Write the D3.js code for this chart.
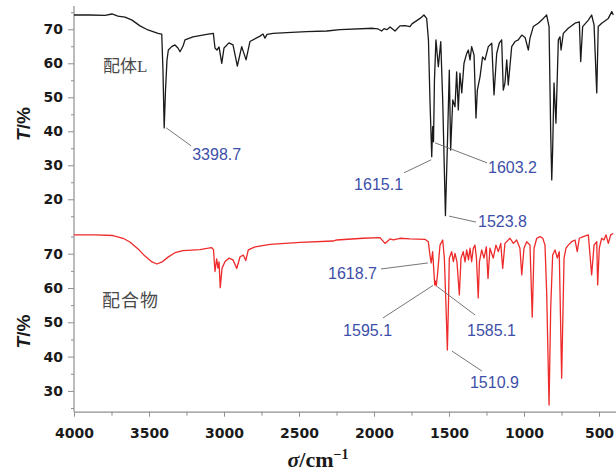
<!DOCTYPE html>
<html><head><meta charset="utf-8">
<script src="https://cdn.jsdelivr.net/npm/d3@7"></script>
<style>html,body{margin:0;padding:0;background:#fff;} svg{display:block}</style>
</head><body><svg id="c" width="616" height="475"></svg>
<script>
// ---------- DATA ----------
// Ligand L (black, top panel): wavenumber (cm-1) and transmittance T (%)
const ligandWn = [4000,3893,3793,3747,3707,3660,3613,3560,3507,3440,3415,3407,3398.7,3390,3380,3371,3349,3327,3307,3293,3273,3260,3207,3115,3071,3060,3047,3033,3015,3000,2967,2940,2911,2882,2853,2827,2760,2740,2727,2713,2673,2582,2449,2315,2227,2007,1973,1949,1933,1915,1893,1860,1827,1793,1760,1747,1693,1667,1649,1637,1627,1615.1,1609,1603.2,1597,1587,1571,1555,1542,1523.8,1511,1498,1489,1475,1460,1449,1438,1427,1415,1400,1382,1371,1360,1349,1333,1320,1311,1293,1276,1260,1238,1215,1200,1182,1165,1149,1138,1127,1115,1105,1082,1060,1038,1015,993,971,960,938,905,871,849,833,822,815,809,800,787,771,760,753,738,705,660,631,622,609,571,549,533,515,505,482,438,415,405];
const ligandT  = [74.2,74.2,74.1,74.5,73.9,73.6,72.7,71.0,69.8,68.8,68.6,58.0,41.0,52.1,61.0,63.9,64.9,65.4,64.5,63.4,65.1,66.9,67.8,68.5,68.8,64.5,63.9,64.8,60.0,64.5,66.0,65.4,59.2,64.9,61.0,66.4,68.0,68.6,67.4,68.5,68.8,69.0,69.3,69.5,69.9,70.3,70.1,69.5,70.2,69.9,70.7,69.5,71.0,71.1,70.8,71.6,73.2,74.2,73.2,66.9,49.2,32.5,41.4,36.9,55.1,66.9,59.0,66.4,49.2,15.2,35.5,58.0,34.5,49.2,47.2,57.5,46.3,57.1,51.3,60.0,62.9,63.9,61.0,64.9,62.4,43.9,52.1,56.1,61.9,61.0,64.9,65.9,50.7,62.9,65.9,66.9,52.1,54.2,61.0,53.6,64.9,66.4,66.9,68.3,67.6,63.9,67.4,70.8,71.8,73.2,74.2,70.8,39.5,25.7,34.5,54.2,42.4,66.9,67.8,63.9,68.8,70.3,71.8,72.2,60.5,70.8,72.7,74.2,71.3,51.3,70.8,71.8,73.2,75.2,74.2];

// Complex (red, bottom panel)
const complexWn = [4000,3860,3740,3673,3627,3573,3527,3480,3447,3413,3373,3327,3273,3160,3105,3082,3070,3060,3049,3040,3033,3025,3013,2993,2967,2940,2915,2893,2871,2855,2838,2793,2693,2493,2273,2249,2073,1960,1927,1893,1871,1827,1760,1660,1638,1627,1618.7,1609,1595.1,1590,1585.1,1577,1560,1542,1531,1517,1510.9,1503,1498,1482,1471,1460,1447,1431,1420,1405,1393,1382,1370,1360,1349,1338,1327,1317,1305,1297,1282,1267,1251,1240,1227,1205,1187,1171,1155,1142,1127,1093,1071,1049,1027,1015,1000,982,960,945,933,915,893,875,860,849,833,822,809,793,778,765,749,733,720,705,682,660,645,631,605,571,549,533,515,509,498,482,467,453,438,422,405];
const complexT  = [75.5,75.5,75.3,74.5,73.4,71.4,69.3,67.6,67.0,67.6,69.0,70.3,70.9,71.2,71.6,71.8,71.1,64.8,68.5,65.8,67.6,60.1,65.8,67.7,68.7,68.2,65.7,69.1,69.6,68.0,71.1,72.0,72.7,73.3,73.7,74.0,74.5,74.7,73.0,74.3,74.0,74.5,74.3,74.2,73.5,69.6,67.3,70.6,60.9,62.0,60.6,63.8,72.5,74.0,68.7,50.7,41.9,56.5,68.7,70.6,67.7,70.1,67.6,58.0,68.7,70.6,67.6,71.1,68.2,71.6,67.7,71.6,72.5,68.7,57.1,67.7,71.1,68.7,72.0,62.8,71.6,68.7,72.5,70.6,73.0,65.7,73.0,74.5,73.0,74.0,71.6,63.8,71.6,73.5,72.5,51.5,71.6,74.5,75.0,74.5,72.5,58.9,25.9,54.1,69.6,71.1,68.7,70.6,33.7,68.7,71.6,72.5,73.5,74.0,70.6,74.5,75.0,75.5,63.8,72.5,73.5,60.9,71.6,74.5,74.0,75.5,73.0,75.5,75.9];

// Axis ticks
const xMajorTicks = [4000,3500,3000,2500,2000,1500,1000,500];
const xMinorTicks = [3750,3250,2750,2250,1750,1250,750];
const yTopMajor = [20,30,40,50,60,70];
const yTopMinor = [15,25,35,45,55,65,75];
const yBotMajor = [30,40,50,60,70];
const yBotMinor = [25,35,45,55,65,75];

// Peak annotations
const annLabel = ["3398.7","1615.1","1603.2","1523.8","1618.7","1595.1","1585.1","1510.9"];
const annWn    = [3398.7,1615.1,1603.2,1523.8,1618.7,1595.1,1585.1,1510.9];
const annT     = [41.0,32.5,36.9,15.2,67.3,60.9,60.6,41.9];
const annPanel = ["top","top","top","top","bottom","bottom","bottom","bottom"];

// Series names
const seriesNames = ["配体", "配合物"];

// ---------- LAYOUT (offsets of leader lines / labels, px) ----------
const annLayout = [
  {sx:2,  sy:0,   ex:27,   ey:18, tx:28,   ty:32,  anchor:"start"},
  {sx:-0.5,sy:3,  ex:-27.7,ey:16, tx:-28.7,ty:33,  anchor:"end"},
  {sx:1.5,sy:1,   ex:53.5, ey:21, tx:54.5, ty:31,  anchor:"start"},
  {sx:3.6,sy:0.5, ex:30.6, ey:6.5,tx:32.6, ty:11.5,anchor:"start"},
  {sx:-3.2,sy:0,  ex:-50.2,ey:6,  tx:-54.2,ty:16,  anchor:"end"},
  {sx:-1.7,sy:0.5,ex:-51.7,ey:33, tx:-42.7,ty:51,  anchor:"end"},
  {sx:0.8,sy:0.5, ex:38.8, ey:29, tx:30.8, ty:50,  anchor:"start"},
  {sx:4.6,sy:1,   ex:34.6, ey:21, tx:22.6, ty:38,  anchor:"start"}
];

// ---------- CHART ----------
const svg = d3.select("#c");
const axisGray = "#8f8f8f";
const x = d3.scaleLinear().domain([4000, 390]).range([74, 615.5]);
const yTop = d3.scaleLinear().domain([76.85, 13.32]).range([6, 222]);
const yBot = d3.scaleLinear().domain([78.95, 23.94]).range([223, 411.7]);

function styleAxis(g, fs) {
  g.select(".domain").remove();
  g.selectAll(".tick line").attr("stroke", axisGray).attr("stroke-width", 1);
  g.selectAll(".tick text").attr("fill", "#1a1a1a")
    .style("font-family", "'DejaVu Sans', sans-serif")
    .style("font-weight", "bold").style("font-size", fs + "px");
}

// continuous y axis line
svg.append("line").attr("x1", 74).attr("x2", 74).attr("y1", yTop.range()[0]).attr("y2", yBot.range()[1])
  .attr("stroke", axisGray).attr("stroke-width", 1.2);

[[yTop, yTopMajor, yTopMinor], [yBot, yBotMajor, yBotMinor]].forEach(([ys, maj, min]) => {
  svg.append("g").attr("transform", "translate(74,0)")
    .call(d3.axisLeft(ys).tickValues(maj).tickSize(6).tickPadding(5).tickFormat(d3.format("d")))
    .call(g => styleAxis(g, 14));
  svg.append("g").attr("transform", "translate(74,0)")
    .call(d3.axisLeft(ys).tickValues(min).tickSize(3).tickFormat(""))
    .call(g => styleAxis(g, 14));
});

// x axis
const xg = svg.append("g").attr("transform", `translate(0,${yBot.range()[1]})`);
xg.call(d3.axisBottom(x).tickValues(xMajorTicks).tickSize(5).tickPadding(11).tickSizeOuter(0).tickFormat(d3.format("d")))
  .call(g => { g.select(".domain").attr("stroke", axisGray).attr("stroke-width", 1.2); });
xg.selectAll(".tick line").attr("stroke", axisGray);
xg.selectAll(".tick text").attr("fill", "#1a1a1a")
  .style("font-family", "'DejaVu Sans', sans-serif").style("font-weight", "bold").style("font-size", "14px");
svg.append("g").attr("transform", `translate(0,${yBot.range()[1]})`)
  .call(d3.axisBottom(x).tickValues(xMinorTicks).tickSize(4).tickFormat(""))
  .call(g => { g.select(".domain").remove(); g.selectAll(".tick line").attr("stroke", axisGray); });

// spectra
const lineTop = d3.line().x(d => x(d[0])).y(d => yTop(d[1]));
const lineBot = d3.line().x(d => x(d[0])).y(d => yBot(d[1]));
svg.append("path").datum(d3.zip(ligandWn, ligandT)).attr("d", lineTop)
  .attr("fill", "none").attr("stroke", "#1a1a1a").attr("stroke-width", 1.3).attr("stroke-linejoin", "round");
svg.append("path").datum(d3.zip(complexWn, complexT)).attr("d", lineBot)
  .attr("fill", "none").attr("stroke", "#ee2a2a").attr("stroke-width", 1.3).attr("stroke-linejoin", "round");

// annotations
annLabel.forEach((lab, i) => {
  const ys = annPanel[i] === "top" ? yTop : yBot;
  const px = x(annWn[i]), py = ys(annT[i]);
  const L = annLayout[i];
  svg.append("line").attr("x1", px + L.sx).attr("y1", py + L.sy).attr("x2", px + L.ex).attr("y2", py + L.ey)
    .attr("stroke", "#666").attr("stroke-width", 0.9);
  svg.append("text").attr("x", px + L.tx).attr("y", py + L.ty).attr("text-anchor", L.anchor)
    .attr("fill", "#3d4fa8").style("font-family", "'Liberation Sans', Arial, sans-serif").style("font-size", "16px")
    .text(lab);
});

// series labels
const t1 = svg.append("text").attr("x", 103).attr("y", 72).attr("fill", "#4a4a4a")
  .style("font-family", "'Noto Sans CJK SC', sans-serif").style("font-size", "17px");
t1.append("tspan").text(seriesNames[0]);
t1.append("tspan").style("font-family", "'Liberation Serif', serif").text("L");
svg.append("text").attr("x", 102).attr("y", 307).attr("fill", "#4a4a4a")
  .style("font-family", "'Noto Sans CJK SC', sans-serif").style("font-size", "18px")
  .attr("letter-spacing", "1").text(seriesNames[1]);

// y axis titles
[ (yTop.range()[0] + 222) / 2 + 10, 331.5 ].forEach(cy => {
  const t = svg.append("text").attr("transform", `translate(30,${cy}) rotate(-90)`).attr("text-anchor", "middle")
    .attr("fill", "#1a1a1a").style("font-family", "'Liberation Sans', Arial, sans-serif")
    .style("font-weight", "bold").style("font-size", "19px");
  t.append("tspan").style("font-style", "italic").text("T");
  t.append("tspan").text("/%");
});

// x axis title
const xt = svg.append("text").attr("x", 318).attr("y", 467).attr("text-anchor", "middle").attr("fill", "#1a1a1a")
  .style("font-family", "'Liberation Serif', 'Times New Roman', serif").style("font-weight", "bold").style("font-size", "22px");
xt.append("tspan").style("font-style", "italic").text("σ");
xt.append("tspan").text("/cm");
xt.append("tspan").attr("dy", -8).style("font-size", "14px").text("−1");
</script></body></html>
